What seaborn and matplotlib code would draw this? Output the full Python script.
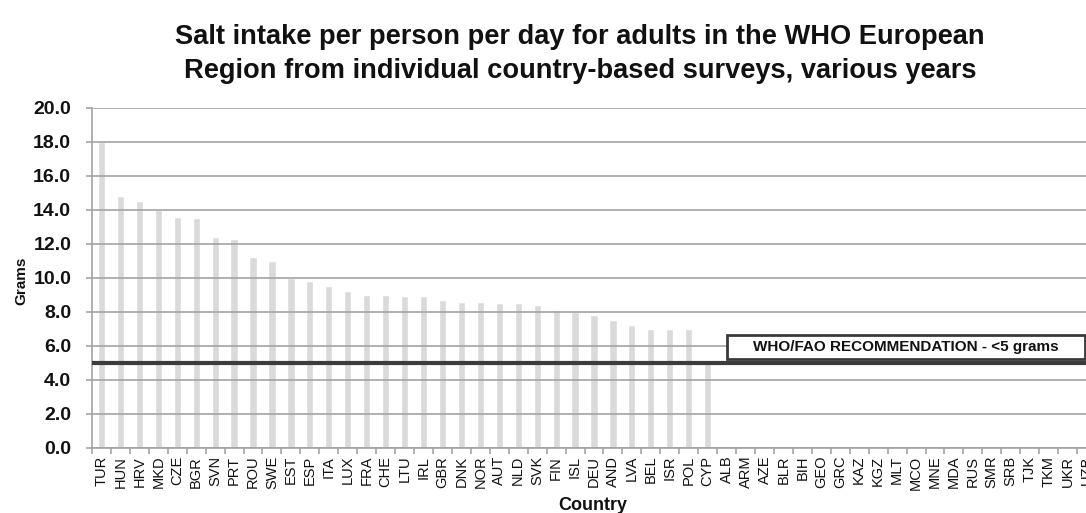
import matplotlib
matplotlib.use("Agg")
import matplotlib.pyplot as plt
from matplotlib.patches import Rectangle
from matplotlib.ticker import FixedLocator, FormatStrFormatter
import pandas as pd
import seaborn as sns

# Countries in chart order (surveyed countries first, then those without data)
countries = [
    "TUR", "HUN", "HRV", "MKD", "CZE", "BGR", "SVN", "PRT", "ROU", "SWE",
    "EST", "ESP", "ITA", "LUX", "FRA", "CHE", "LTU", "IRL", "GBR", "DNK",
    "NOR", "AUT", "NLD", "SVK", "FIN", "ISL", "DEU", "AND", "LVA", "BEL",
    "ISR", "POL", "CYP", "ALB", "ARM", "AZE", "BLR", "BIH", "GEO", "GRC",
    "KAZ", "KGZ", "MLT", "MCO", "MNE", "MDA", "RUS", "SMR", "SRB", "TJK",
    "TKM", "UKR", "UZB",
]
# Salt intake (g/day) for the countries with survey data
surveyed = countries[:33]
salt_grams = [
    18.0, 14.8, 14.5, 14.0, 13.6, 13.5, 12.4, 12.3, 11.2, 11.0,
    10.0, 9.8, 9.5, 9.2, 9.0, 9.0, 8.9, 8.9, 8.7, 8.6,
    8.6, 8.5, 8.5, 8.4, 8.1, 8.0, 7.8, 7.5, 7.2, 7.0,
    7.0, 7.0, 5.0,
]
recommendation = 5.0
y_ticks = [0, 2, 4, 6, 8, 10, 12, 14, 16, 18, 20]

title = ("Salt intake per person per day for adults in the WHO European\n"
         "Region from individual country-based surveys, various years")
rec_label = "WHO/FAO RECOMMENDATION - <5 grams"

sns.set_style("white")
plt.rcParams["font.family"] = ["Liberation Sans", "DejaVu Sans"]

df = pd.DataFrame({"Country": surveyed, "Grams": salt_grams})

W, H = 1086, 513
fig = plt.figure(figsize=(W / 100, H / 100), dpi=100)
# the plotting area runs past the right edge of the figure
ax_left, ax_width = 92, 1004
ax = fig.add_axes([ax_left / W, (H - 447.5) / H, ax_width / W, 339.5 / H])

grid_c = "#a3a3a3"
text_c = "#111111"
sns.barplot(data=df, x="Country", y="Grams", order=countries, ax=ax,
            color="#dadada", saturation=1, width=0.38, errorbar=None)

ax.set_xlim(-0.5, len(countries) - 0.5)
ax.set_ylim(0, 20)
ax.set_yticks(y_ticks)
ax.yaxis.set_major_formatter(FormatStrFormatter("%.1f"))
ax.yaxis.grid(True, color=grid_c, linewidth=1.2)
ax.set_axisbelow(False)

for side in ("top", "right"):
    ax.spines[side].set_visible(False)
for side in ("left", "bottom"):
    ax.spines[side].set_color(grid_c)
    ax.spines[side].set_linewidth(1.2)

# category boundaries carry the tick marks, labels sit at bar centres
ax.xaxis.set_minor_locator(FixedLocator([i - 0.5 for i in range(len(countries) + 1)]))
ax.tick_params(axis="x", which="major", length=0, pad=6, labelsize=10.5,
               labelrotation=90, labelcolor=text_c)
ax.tick_params(axis="x", which="minor", length=4, width=1.2, color=grid_c,
               direction="out", bottom=True)
ax.tick_params(axis="y", which="major", length=4, width=1.2, color=grid_c,
               direction="out", left=True, pad=11, labelsize=14,
               labelcolor=text_c)
for lab in ax.get_yticklabels():
    lab.set_fontweight("bold")

ax.set_xlabel("Country", fontsize=13, fontweight="bold", color=text_c)
ax.xaxis.set_label_coords((593 - ax_left) / ax_width, -0.146)
ax.set_ylabel("Grams", fontsize=11, fontweight="bold", color=text_c)
ax.yaxis.set_label_coords((28 - ax_left) / ax_width, 0.49)

# recommendation line
ax.axhline(recommendation, color="#3c3c3c", linewidth=3.0, zorder=4)

# recommendation label box
box_x0, box_x1 = 33.0, 51.93
box_y0, box_y1 = 5.22, 6.62
ax.add_patch(Rectangle((box_x0, box_y0), box_x1 - box_x0, box_y1 - box_y0,
                       facecolor="white", edgecolor="#3a3a3a", linewidth=2.0,
                       zorder=5))
ax.text((box_x0 + box_x1) / 2, (box_y0 + box_y1) / 2, rec_label,
        ha="center", va="center", fontsize=11, fontweight="bold",
        color=text_c, zorder=6)

fig.text(580 / W, 1 - 54 / H, title, ha="center", va="center",
         fontsize=19.6, fontweight="bold", linespacing=1.35, color=text_c)

fig.savefig("out.png", dpi=100)
